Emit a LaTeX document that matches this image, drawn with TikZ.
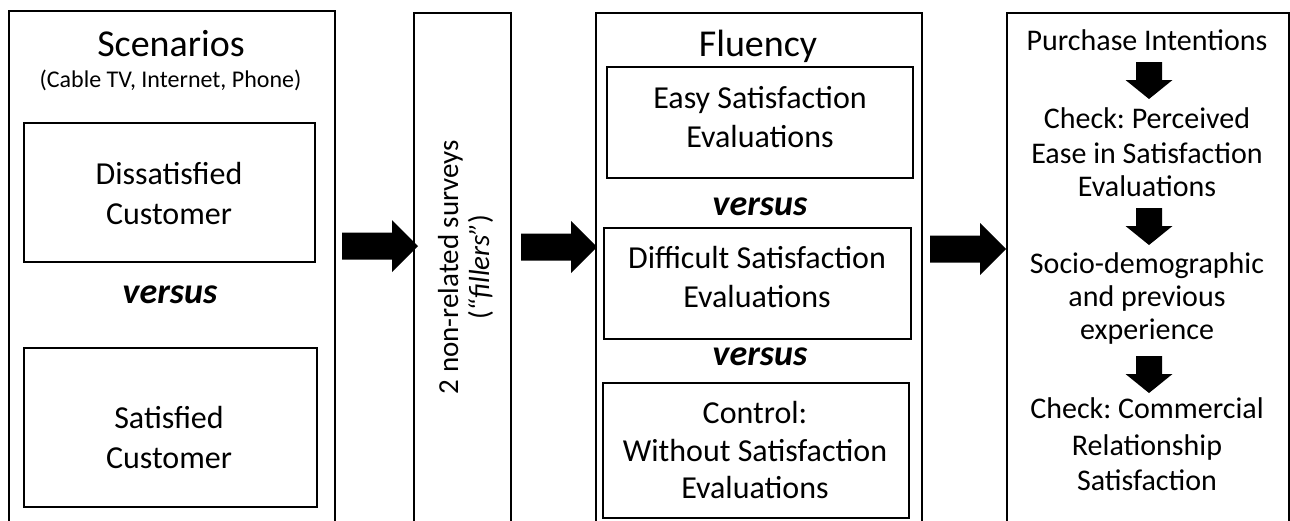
\documentclass[tikz,border=0pt]{standalone}
\usepackage{fontspec}
\setmainfont{Carlito}
\frenchspacing
\begin{document}
\begin{tikzpicture}[x=1pt,y=-1pt,
  frame/.style={draw, line width=1.9pt, inner sep=0pt, anchor=north west},
  ttl/.style={anchor=base, inner sep=0pt, font=\fontsize{38}{44}\selectfont},
  sub/.style={anchor=base, inner sep=0pt, font=\fontsize{24}{28}\selectfont},
  tl/.style={anchor=base, inner sep=0pt, font=\fontsize{32}{38}\selectfont},
  vs/.style={anchor=base, inner sep=0pt, font=\fontsize{36}{40}\selectfont\bfseries\itshape},
  rt/.style={anchor=base, inner sep=0pt, font=\fontsize{30}{35}\selectfont},
  ft/.style={anchor=base, inner sep=0pt, rotate=90, font=\fontsize{29}{32}\selectfont},
  rarr/.pic={\fill (0,0) -- (-26,-26) -- (-26,-13.5) -- (-76,-13.5) -- (-76,13.5) -- (-26,13.5) -- (-26,26) -- cycle;},
  darr/.pic={\fill (0,0) -- (-23.5,-19) -- (-13,-19) -- (-13,-37) -- (13,-37) -- (13,-19) -- (23.5,-19) -- cycle;}
]
\useasboundingbox (0,0) rectangle (1290,520);
\fill[white] (0,0) rectangle (1290,520);
\clip (0,0) rectangle (1290,520);

% outer boxes
\node[frame, minimum width=326pt, minimum height=530pt] (scen) at (8,10) {};
\node[frame, minimum width=97pt, minimum height=530pt] (fill) at (413,12) {};
\node[frame, minimum width=326pt, minimum height=530pt] (flu) at (595,12) {};
\node[frame, minimum width=282pt, minimum height=530pt] (pur) at (1006,12) {};

% scenarios
\node[ttl] (scent) at (171,56) {Scenarios};
\node[sub] (scens) at (170.5,87) {(Cable TV, Internet, Phone)};
\node[frame, minimum width=291pt, minimum height=139pt] (dis) at (23,122) {};
\node[tl] (dis1) at (169,184) {Dissatisfied};
\node[tl] (dis2) at (169,224) {Customer};
\node[vs] (vs1) at (170,303) {versus};
\node[frame, minimum width=293pt, minimum height=159pt] (sat) at (23,347) {};
\node[tl] (sat1) at (169,428) {Satisfied};
\node[tl] (sat2) at (169,468) {Customer};

% fillers
\node[ft] (f1) at (458,267) {2 non-related surveys};
\node[ft] (f2) at (489,267) {(\textit{“fillers”})};

% fluency
\node[ttl] (flut) at (758,56) {Fluency};
\node[frame, minimum width=306pt, minimum height=111pt] (easy) at (606,66) {};
\node[tl] (e1) at (760,108) {Easy Satisfaction};
\node[tl] (e2) at (760,147) {Evaluations};
\node[vs] (vs2) at (760,215) {versus};
\node[frame, minimum width=307pt, minimum height=111pt] (diff) at (603,227) {};
\node[tl] (d1) at (757,268) {Difficult Satisfaction};
\node[tl] (d2) at (757,307) {Evaluations};
\node[vs] (vs3) at (760,365) {versus};
\node[frame, minimum width=306pt, minimum height=135pt] (ctrl) at (602,382) {};
\node[tl] (c1) at (755,423) {Control:};
\node[tl] (c2) at (755,461) {Without Satisfaction};
\node[tl] (c3) at (755,498) {Evaluations};

% purchase
\node[rt] (p1) at (1147,50) {Purchase Intentions};
\node[rt] (p2) at (1147,128) {Check: Perceived};
\node[rt] (p3) at (1147,163) {Ease in Satisfaction};
\node[rt] (p4) at (1147,196) {Evaluations};
\node[rt] (p5) at (1147,273) {Socio-demographic};
\node[rt] (p6) at (1147,306) {and previous};
\node[rt] (p7) at (1147,339) {experience};
\node[rt] (p8) at (1147,418) {Check: Commercial};
\node[rt] (p9) at (1147,455) {Relationship};
\node[rt] (p10) at (1147,490) {Satisfaction};

% block arrows between stages
\coordinate (ay1) at (0,246);
\coordinate (ay2) at (0,247);
\coordinate (ay3) at (0,249);
\coordinate (t1) at (fill.west |- ay1);
\coordinate (t2) at (flu.west |- ay2);
\coordinate (t3) at (pur.west |- ay3);
\pic at ([xshift=5pt]t1) {rarr};
\pic at ([xshift=2pt]t2) {rarr};
\pic at (t3) {rarr};

% down arrows
\coordinate (dx) at (1149,0);
\coordinate (dy1) at (0,99);
\coordinate (dy2) at (0,245);
\coordinate (dy3) at (0,393);
\pic at (dx |- dy1) {darr};
\pic at (dx |- dy2) {darr};
\pic at (dx |- dy3) {darr};
\end{tikzpicture}
\end{document}
